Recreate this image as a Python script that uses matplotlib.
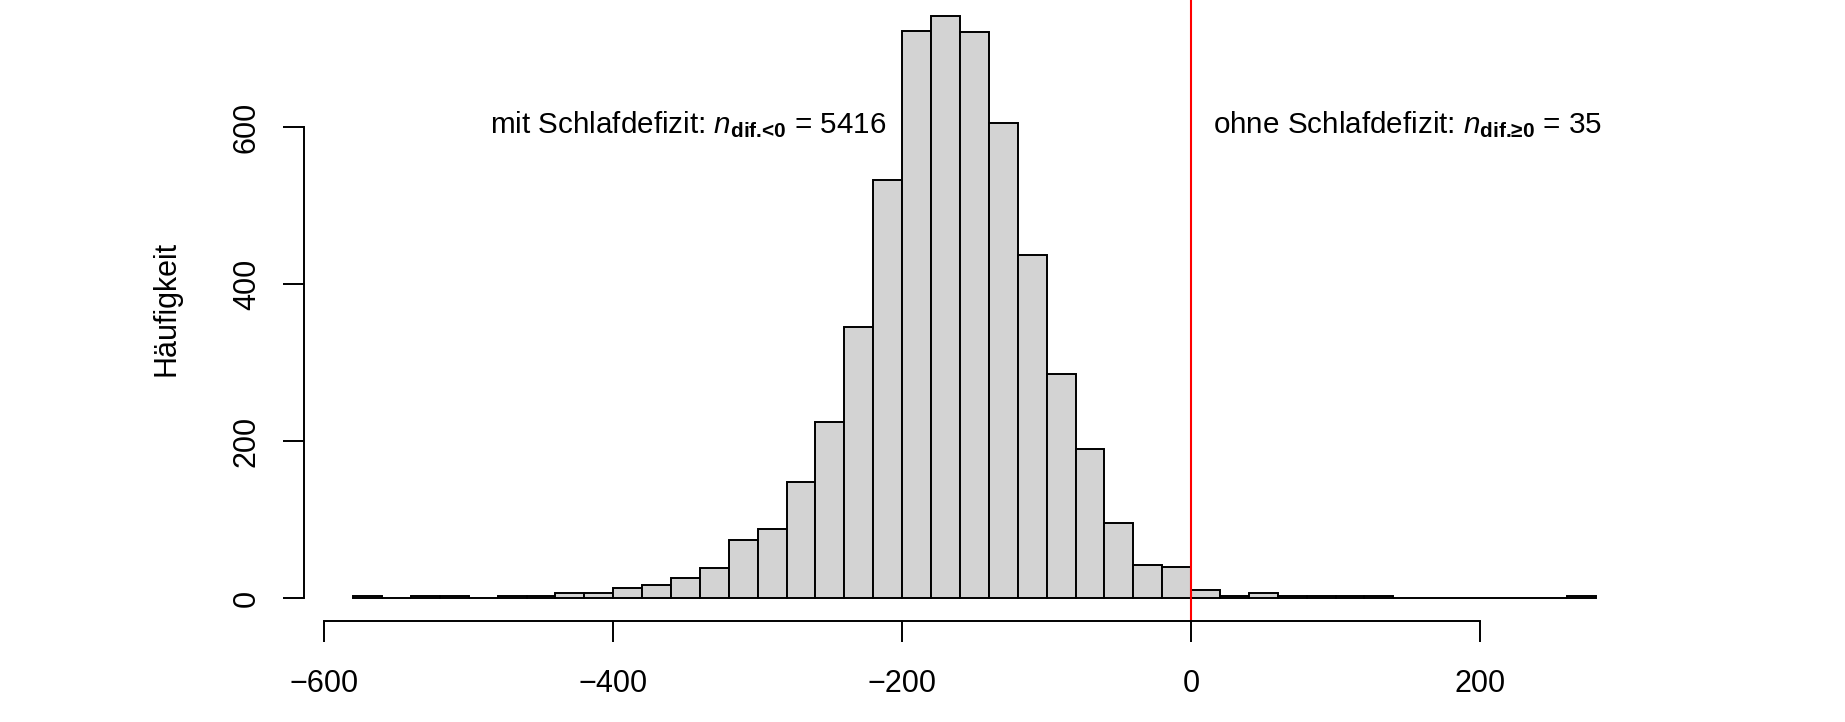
import matplotlib
matplotlib.use("Agg")
import matplotlib.pyplot as plt
import numpy as np

plt.rcParams['font.family'] = ['Liberation Sans', 'DejaVu Sans']
plt.rcParams['mathtext.fontset'] = 'custom'
plt.rcParams['mathtext.rm'] = 'Liberation Sans:bold'
plt.rcParams['mathtext.it'] = 'Liberation Sans:italic'
plt.rcParams['mathtext.bf'] = 'Liberation Sans:bold'

# Klassen (Breite 20 min), wie breaks = seq(-580, 280, 20) in R
breaks = np.arange(-580, 281, 20)

# Häufigkeiten der Differenz < 0 (Klassen -580 ... -20)
counts_neg = [3, 0, 3, 3, 0, 3, 3, 7, 7, 13, 17, 25, 38, 74, 88, 148,
              225, 345, 533, 723, 742, 722, 606, 437, 285, 190, 95, 42, 39]
# Häufigkeiten der Differenz >= 0 (Klassen 0 ... 260)
counts_pos = [10, 3, 7, 3, 3, 3, 3, 0, 0, 0, 0, 0, 0, 3]

n_neg = 5416
n_pos = 35

xticks = [-600, -400, -200, 0, 200]
yticks = [0, 200, 400, 600]

counts = counts_neg + counts_pos

W, H = 1845, 722
fig = plt.figure(figsize=(W / 100, H / 100), dpi=100)

# plot region in pixels (R style, 4% axis extension)
left_px, right_px = 303.5, 1645.3
bottom_px, top_px = 621.3, -7.3
ax = fig.add_axes([left_px / W, (H - bottom_px) / H,
                   (right_px - left_px) / W, (bottom_px - top_px) / H])

ax.bar(breaks[:-1], counts, width=20, align='edge',
       color='#d3d3d3', edgecolor='black', linewidth=1.4)

ax.axvline(0, color='red', linewidth=1.5)

pad_x = 0.04 * (breaks[-1] - breaks[0])
ax.set_xlim(breaks[0] - pad_x, breaks[-1] + pad_x)
ax.set_ylim(-0.04 * max(counts), 1.04 * max(counts))

for s in ['top', 'right']:
    ax.spines[s].set_visible(False)
ax.spines['left'].set_bounds(yticks[0], yticks[-1])
ax.spines['bottom'].set_bounds(xticks[0], xticks[-1])
ax.spines['left'].set_linewidth(1.4)
ax.spines['bottom'].set_linewidth(1.4)

ax.set_xticks(xticks)
ax.set_yticks(yticks)
ax.tick_params(axis='both', length=15, width=1.4, labelsize=22)
ax.tick_params(axis='x', pad=19)
ax.tick_params(axis='y', pad=15)
for lab in ax.get_yticklabels():
    lab.set_rotation(90)
    lab.set_va('center')

fig.text(167 / W, 1 - 308 / H, 'Häufigkeit', rotation=90,
         ha='center', va='center', fontsize=22)

ax.text(-348, 604, r'mit Schlafdefizit: $n_{\text{dif.<0}}$ = %d' % n_neg,
        ha='center', va='center', fontsize=21.3)
ax.text(150, 604, r'ohne Schlafdefizit: $n_{\text{dif.≥0}}$ = %d' % n_pos,
        ha='center', va='center', fontsize=21.3)

fig.savefig('out.png', dpi=100)
